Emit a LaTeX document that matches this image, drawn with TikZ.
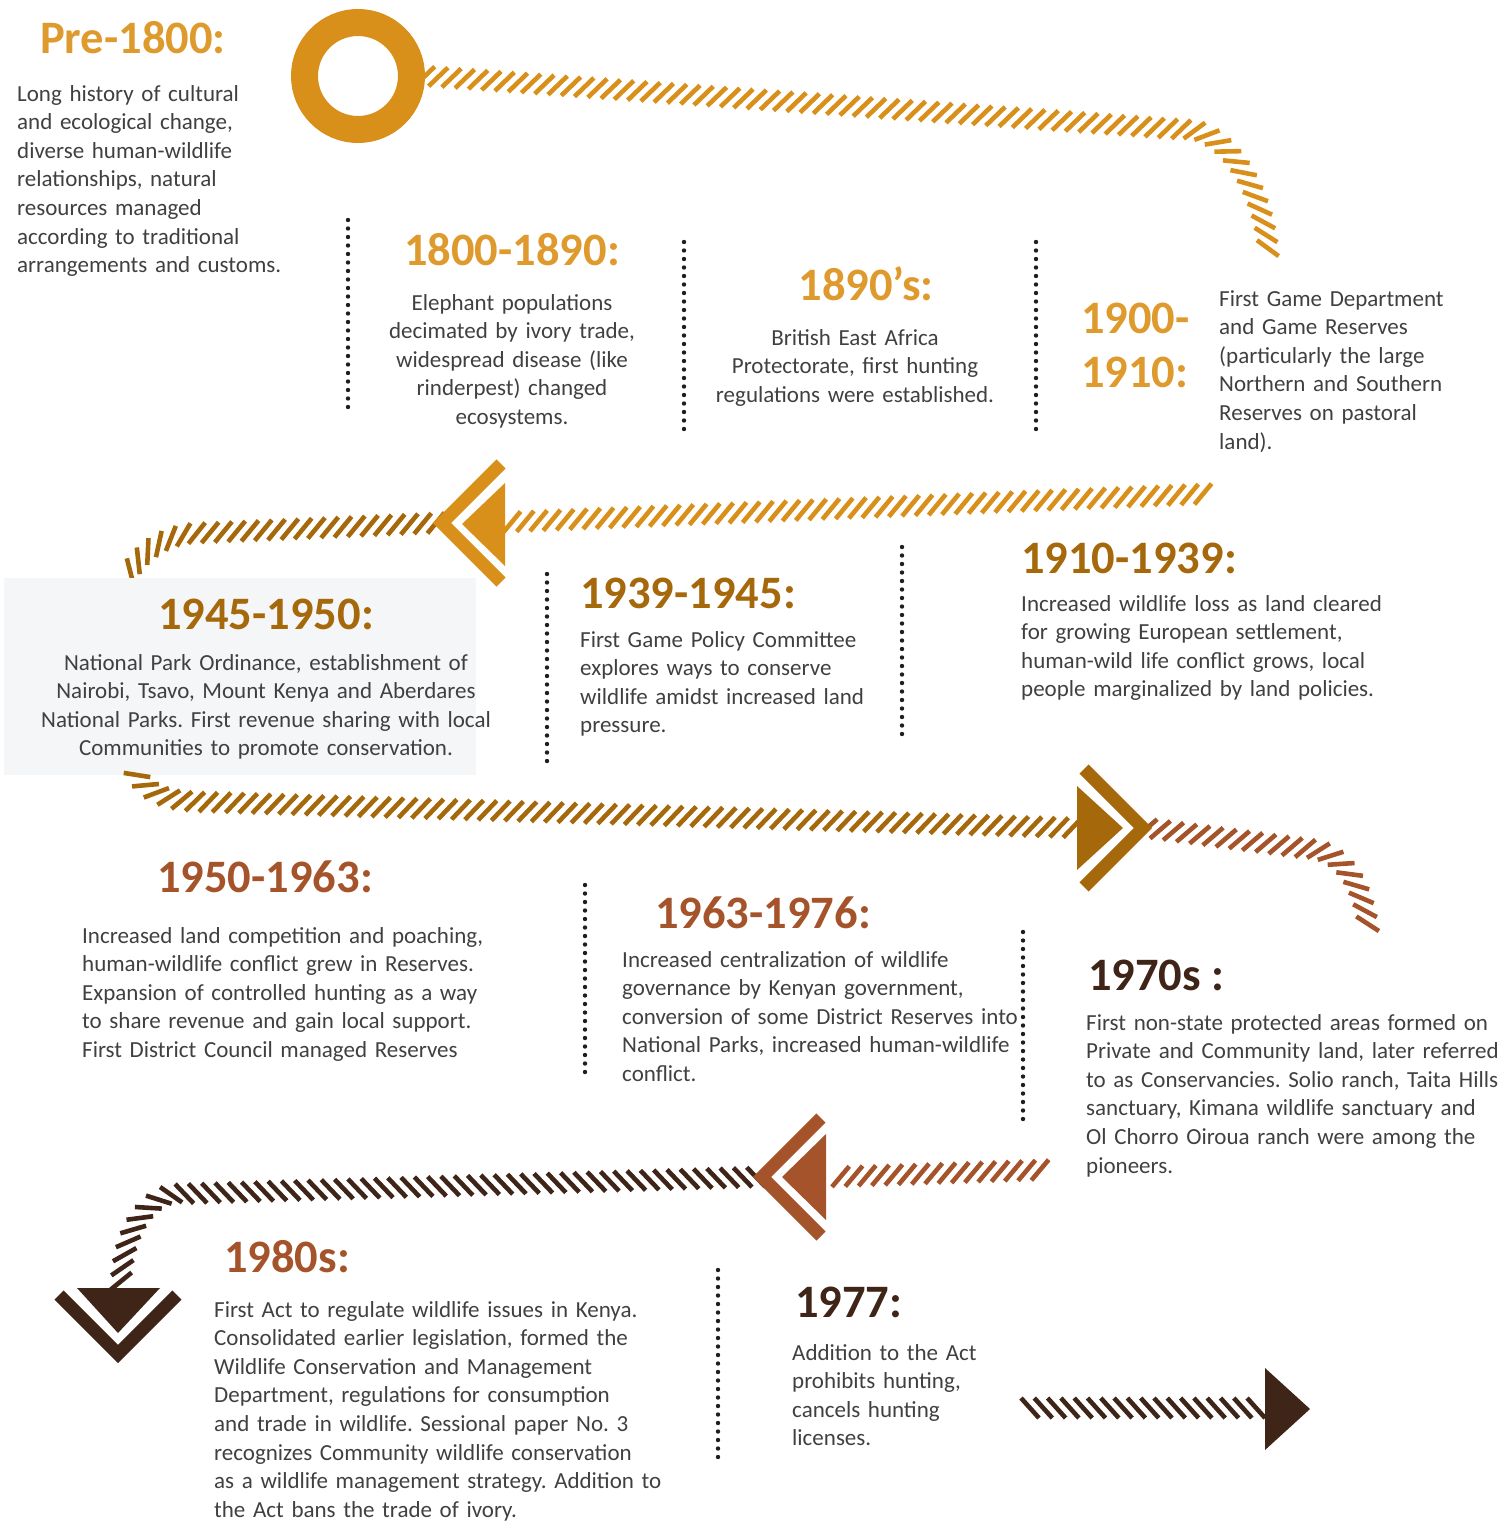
\documentclass[tikz,border=0pt]{standalone}
\usepackage{fontspec}
\setmainfont{Carlito}
\usepackage{xcolor}
\usetikzlibrary{decorations.markings}
\definecolor{cA}{HTML}{D8901A}
\definecolor{cT}{HTML}{DF9A2E}
\definecolor{cB}{HTML}{A5680B}
\definecolor{cC}{HTML}{A5532A}
\definecolor{cD}{HTML}{3E2518}
\definecolor{txt}{HTML}{404040}
\definecolor{boxbg}{HTML}{F5F6F8}
\definecolor{dotc}{HTML}{1E1E1E}
\frenchspacing
\tikzset{
    hatch/.style={decorate, decoration={markings,
        mark=between positions 0 and 1 step 13.3pt with {\draw[#1, line width=4.6pt] (-9pt,-10pt) -- (9pt,10pt);}}},
    bhatch/.style={decorate, decoration={markings,
        mark=between positions 0 and 1 step 13.3pt with {\draw[#1, line width=4.6pt] (-9pt,10pt) -- (9pt,-10pt);}}},
    chev/.style={draw=#1, line width=13pt, line join=miter},
    yr/.style={text=#1, font=\fontsize{46.5}{54}\selectfont\bfseries, inner sep=0pt},
    body/.style={text=txt, font=\fontsize{23}{28.6}\selectfont, inner sep=0pt, text width=#1},
    sepdots/.style={dotc, line width=4.4pt, line cap=round, dash pattern=on 0pt off 8.5pt}
}

\begin{document}
\begin{tikzpicture}[x=1pt, y=-1pt]
    \useasboundingbox (0,0) rectangle (1501,1523);

    \node[circle, draw=cA, line width=27pt, minimum size=107pt, inner sep=0pt] (ring) at (358,76) {};
    \coordinate (e1) at (1268,250);
    \coordinate (s2) at (1203,494);
    \coordinate (v2) at (442,523);
    \coordinate (e2) at (125,580);
    \coordinate (s3) at (137,775);
    \coordinate (v3) at (1143,828);
    \coordinate (e3) at (1369,934);
    \coordinate (s4) at (1040,1170);
    \coordinate (v4) at (762,1177);
    \coordinate (e4) at (121,1290);
    \coordinate (v5) at (118,1354);
    \coordinate (s6) at (1030,1408);
    \coordinate (v6) at (1310,1409);

    % hatched track
    \path[hatch=cA] (ring.east) -- (1190,130) .. controls (1225,133) and (1262,185) .. (e1);
    \path[hatch=cA] (s2) -- (509,522);
    \path[hatch=cB] ([xshift=-6pt]v2) -- (200,533) .. controls (165,534) and (140,552) .. (e2);
    \fill[boxbg] (4,578) rectangle (476,775);
    \path[hatch=cB] (s3) .. controls (150,795) and (170,801) .. (205,802) -- (1078,828);
    \path[hatch=cC] ([xshift=4pt]v3) -- (1310,849) .. controls (1345,853) and (1364,888) .. (e3);
    \path[hatch=cC] (s4) -- (829,1177);
    \path[bhatch=cD] ([xshift=-6pt]v4) -- (175,1194) .. controls (145,1198) and (121,1235) .. (e4);
    \path[bhatch=cD] (s6) -- (1268,1408);

    % heads
    \draw[chev=cA] (501,464) -- (v2) -- (501,582);
    \fill[cA] (462,524) -- (505,483) -- (505,566) -- cycle;
    \draw[chev=cB] (1084,769) -- (v3) -- (1084,887);
    \fill[cB] (1123,828) -- (1077,786) -- (1077,870) -- cycle;
    \draw[chev=cC] (821,1118) -- (v4) -- (821,1236);
    \fill[cC] (782,1177) -- (826,1134) -- (826,1220) -- cycle;
    \draw[chev=cD] (59,1295) -- (v5) -- (177,1295);
    \fill[cD] (118,1333) -- (77,1288) -- (160,1288) -- cycle;
    \fill[cD] (v6) -- (1265,1368) -- (1265,1450) -- cycle;

    \draw[sepdots] (348,220) -- (348,414);
    \draw[sepdots] (684,242) -- (684,434);
    \draw[sepdots] (1036,242) -- (1036,434);
    \draw[sepdots] (547,574) -- (547,767);
    \draw[sepdots] (902,547) -- (902,739);
    \draw[sepdots] (585,885) -- (585,1077);
    \draw[sepdots] (1023,932) -- (1023,1124);
    \draw[sepdots] (718,1270) -- (718,1462);

    \node[yr=cT, anchor=base west] (t0) at (40,53) {Pre-1800:};
    \node[body=500pt, align=left, anchor=base west] (b0) at (17,101)
        {Long history of cultural\\ and ecological change,\\ diverse human-wildlife\\ relationships, natural\\ resources managed\\ according to traditional\\ arrangements and customs.};

    \node[yr=cT, anchor=base] (t1) at (512,265) {1800-1890:};
    \node[body=400pt, align=center, anchor=base] (b1) at (512,310)
        {Elephant populations\\ decimated by ivory trade,\\ widespread disease (like\\ rinderpest) changed\\ ecosystems.};

    \node[yr=cT, anchor=base] (t2) at (866,300) {1890’s:};
    \node[body=400pt, align=center, anchor=base] (b2) at (855,345)
        {British East Africa\\ Protectorate, first hunting\\ regulations were established.};

    \node[yr=cT, text width=200pt, align=left, anchor=base west] (t3) at (1081,333) {1900-\\ 1910:};
    \node[body=500pt, align=left, anchor=base west] (b3) at (1219,306)
        {First Game Department\\ and Game Reserves\\ (particularly the large\\ Northern and Southern\\ Reserves on pastoral\\ land).};

    \node[yr=cB, anchor=base west] (t4) at (1021,573) {1910-1939:};
    \node[body=500pt, align=left, anchor=base west] (b4) at (1021,611)
        {Increased wildlife loss as land cleared\\ for growing European settlement,\\ human-wild life conflict grows, local\\ people marginalized by land policies.};

    \node[yr=cB, anchor=base west] (t5) at (580,608) {1939-1945:};
    \node[body=500pt, align=left, anchor=base west] (b5) at (580,647)
        {First Game Policy Committee\\ explores ways to conserve\\ wildlife amidst increased land\\ pressure.};

    \node[yr=cB, anchor=base] (t6) at (266,629) {1945-1950:};
    \node[body=520pt, align=center, anchor=base] (b6) at (266,670)
        {National Park Ordinance, establishment of\\ Nairobi, Tsavo, Mount Kenya and Aberdares\\ National Parks. First revenue sharing with local\\ Communities to promote conservation.};

    \node[yr=cC, anchor=base west] (t7) at (157,892) {1950-1963:};
    \node[body=600pt, align=left, anchor=base west] (b7) at (82,943)
        {Increased land competition and poaching,\\ human-wildlife conflict grew in Reserves.\\ Expansion of controlled hunting as a way\\ to share revenue and gain local support.\\ First District Council managed Reserves};

    \node[yr=cC, anchor=base west] (t8) at (655,928) {1963-1976:};
    \node[body=600pt, align=left, anchor=base west] (b8) at (622,967)
        {Increased centralization of wildlife\\ governance by Kenyan government,\\ conversion of some District Reserves into\\ National Parks, increased human-wildlife\\ conflict.};

    \node[yr=cD, anchor=base west] (t9) at (1088,990) {1970s :};
    \node[body=600pt, align=left, anchor=base west] (b9) at (1086,1030)
        {First non-state protected areas formed on\\ Private and Community land, later referred\\ to as Conservancies. Solio ranch, Taita Hills\\ sanctuary, Kimana wildlife sanctuary and\\ Ol Chorro Oiroua ranch were among the\\ pioneers.};

    \node[yr=cC, anchor=base west] (t10) at (224,1272) {1980s:};
    \node[body=600pt, align=left, anchor=base west] (b10) at (214,1317)
        {First Act to regulate wildlife issues in Kenya.\\ Consolidated earlier legislation, formed the\\ Wildlife Conservation and Management\\ Department, regulations for consumption\\ and trade in wildlife. Sessional paper No. 3\\ recognizes Community wildlife conservation\\ as a wildlife management strategy. Addition to\\ the Act bans the trade of ivory.};

    \node[yr=cD, anchor=base west] (t11) at (795,1317) {1977:};
    \node[body=500pt, align=left, anchor=base west] (b11) at (792,1360)
        {Addition to the Act\\ prohibits hunting,\\ cancels hunting\\ licenses.};
\end{tikzpicture}
\end{document}
